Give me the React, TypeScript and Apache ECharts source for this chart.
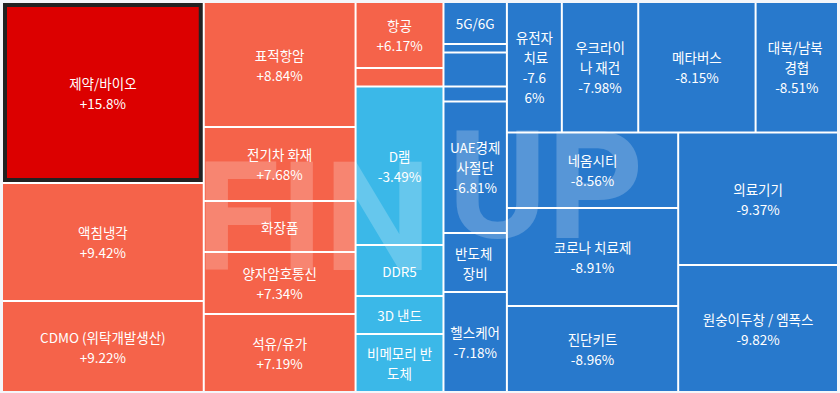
import React, { useEffect, useRef } from "react";
import * as echarts from "echarts";

// Theme names, in the order the tiles are laid out (sorted by daily change, descending)
const themes: string[] = [
  "제약/바이오", "액침냉각", "CDMO (위탁개발생산)",
  "표적항암", "전기차 화재", "화장품", "양자암호통신", "석유/유가",
  "항공", "", "D램", "DDR5", "3D 낸드", "비메모리 반도체",
  "5G/6G", "", "", "", "UAE경제사절단", "반도체 장비", "헬스케어",
  "유전자 치료", "우크라이나 재건", "메타버스", "대북/남북 경협",
  "네옴시티", "코로나 치료제", "진단키트", "의료기기", "원숭이두창 / 엠폭스",
];

// Daily change (%) of each theme
const changes: number[] = [
  15.8, 9.42, 9.22,
  8.84, 7.68, 7.5, 7.34, 7.19,
  6.17, 5.9, -3.49, -3.9, -4.2, -4.6,
  -5.6, -6.0, -6.3, -6.6, -6.81, -7.0, -7.18,
  -7.66, -7.98, -8.15, -8.51,
  -8.56, -8.91, -8.96, -9.37, -9.82,
];

// Tile size (relative weight) of each theme
const sizes: number[] = [
  36562, 23836, 18382,
  19000, 11248, 7752, 9424, 11856,
  5808, 1628, 13948, 4488, 3344, 5104,
  2667, 540, 2159, 953, 8350, 3747, 6350,
  7178, 9983, 15334, 10766,
  12948, 16807, 14749, 21200, 20320,
];

// Colour bins: [lower bound of change, colour]
const colorBins: [number, string][] = [
  [10, "#dc0000"],
  [0, "#f5634a"],
  [-5, "#3bb8e8"],
  [-Infinity, "#2879cc"],
];

const highlighted = "제약/바이오";

const FONT_SIZE = 13.5;
const FONT_FAMILY = "Noto Sans CJK KR";
const PAD_V = 7.5;
const PAD_H = 3.6;
// narrower text box for a tile whose label wraps more tightly in the reference
const padHOverride: Record<string, number> = { "유전자 치료": 5.9 };

function colorFor(c: number): string {
  for (const [lo, col] of colorBins) if (c >= lo) return col;
  return colorBins[colorBins.length - 1][1];
}

let measureCtx: CanvasRenderingContext2D | null = null;
function measure(s: string): number {
  if (!measureCtx) measureCtx = document.createElement("canvas").getContext("2d");
  if (!measureCtx) return 0;
  measureCtx.font = `${FONT_SIZE}px ${FONT_FAMILY}`;
  return measureCtx.measureText(s).width;
}

// Browser-like rule: a '%' (or '.') may not start a line, so it takes the preceding character along
function wrapValue(s: string, maxW: number): string {
  if (!(maxW > 0) || measure(s) <= maxW) return s;
  let cut = s.length;
  while (cut > 1 && measure(s.slice(0, cut)) > maxW) cut--;
  while (cut > 1 && /^[%.]/.test(s.slice(cut))) cut--;
  return s.slice(0, cut) + "\n" + s.slice(cut);
}

export default function App() {
  const ref = useRef<HTMLDivElement>(null);

  useEffect(() => {
    document.body.style.margin = "0";
    if (!ref.current) return;
    const chart = echarts.init(ref.current, undefined, { renderer: "svg" });

    const data = themes.map((name, i) => {
      const item: any = {
        name,
        value: sizes[i],
        change: changes[i],
        itemStyle: { color: colorFor(changes[i]) },
      };
      if (name === highlighted) {
        item.itemStyle.borderWidth = 4;
        item.itemStyle.borderColor = "#222222";
      }
      if (padHOverride[name] != null) item.label = { padding: [PAD_V, padHOverride[name]] };
      if (!name) item.label = { show: false };
      return item;
    });

    chart.setOption({
      animation: false,
      backgroundColor: "#f4f6fa",
      tooltip: { show: false },
      graphic: [
        {
          type: "text",
          left: 196,
          top: 142,
          z: 100,
          silent: true,
          style: {
            text: "FIN",
            fill: "rgba(255,255,255,0.22)",
            font: "bold 152px Roboto",
          },
        },
        {
          type: "text",
          left: 448,
          top: 112,
          z: 100,
          silent: true,
          style: {
            text: "UP",
            fill: "rgba(255,255,255,0.22)",
            font: "bold 150px Roboto",
          },
        },
      ],
      series: [
        {
          type: "treemap",
          left: 3,
          top: 3,
          width: 834,
          height: 388,
          sort: false,
          roam: false,
          nodeClick: false,
          breadcrumb: { show: false },
          itemStyle: { gapWidth: 2, borderWidth: 0, borderColor: "#ffffff" },
          levels: [{ itemStyle: { gapWidth: 2, borderWidth: 0, borderColor: "#ffffff" } }],
          label: {
            show: true,
            position: "inside",
            color: "#ffffff",
            fontSize: FONT_SIZE,
            lineHeight: 20,
            fontFamily: FONT_FAMILY,
            padding: [PAD_V, PAD_H],
            overflow: "break",
            formatter: (p: any) => {
              const c = p.data.change as number;
              const val = `${c > 0 ? "+" : ""}${c.toPrecision(3)}%`;
              const ph = padHOverride[p.name] != null ? padHOverride[p.name] : PAD_H;
              let maxW = Infinity;
              try {
                const lay = (chart as any)
                  .getModel()
                  .getSeriesByIndex(0)
                  .getData()
                  .getItemLayout(p.dataIndex);
                const bw = (p.data.itemStyle && p.data.itemStyle.borderWidth) || 0;
                if (lay && lay.width) maxW = lay.width - 2 * bw - 2 * ph;
              } catch (e) {
                maxW = Infinity;
              }
              return `${p.name}\n${wrapValue(val, maxW)}`;
            },
          },
          emphasis: { disabled: true },
          data,
        },
      ],
    });

    return () => chart.dispose();
  }, []);

  return <div ref={ref} style={{ width: 840, height: 393 }} />;
}
